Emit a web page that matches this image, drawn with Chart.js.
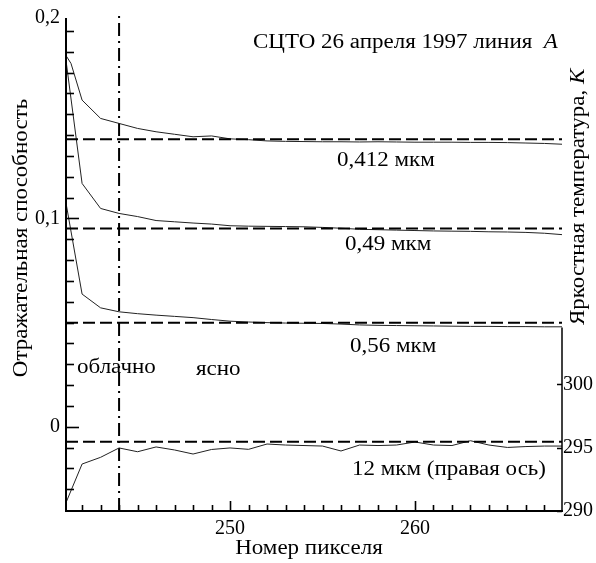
<!DOCTYPE html>
<html>
<head>
<meta charset="utf-8">
<script src="https://cdn.jsdelivr.net/npm/chart.js@4/dist/chart.umd.min.js"></script>
<style>
  html, body { margin: 0; padding: 0; background: #fff; }
  #wrap { width: 596px; height: 563px; }
</style>
</head>
<body>
<div id="wrap"><canvas id="c" width="596" height="563"></canvas></div>
<script>
// ---------------- DATA ----------------
const pixelNumbers = [241.15, 242, 243, 244, 245, 246, 247, 248, 249, 250, 251, 252, 253, 254, 255,
                      256, 257, 258, 259, 260, 261, 262, 263, 264, 265, 266, 267, 268];
const pixelNumbers412 = [241.15, 241.4, 242, 243, 244, 245, 246, 247, 248, 249, 250, 251, 252, 253, 254, 255,
                      256, 257, 258, 259, 260, 261, 262, 263, 264, 265, 266, 267, 268];

const refl412 = [0.1779, 0.1744, 0.1568, 0.1480, 0.1456, 0.1432, 0.1416, 0.1404, 0.1392, 0.1396, 0.1382,
                 0.1378, 0.1372, 0.1370, 0.1369, 0.1368, 0.1368, 0.1367, 0.1368, 0.1367, 0.1366, 0.1366,
                 0.1366, 0.1365, 0.1365, 0.1364, 0.1362, 0.1360, 0.1356];
const refl490 = [0.1745, 0.1168, 0.1048, 0.1024, 0.1009, 0.0990, 0.0984, 0.0978, 0.0973, 0.0965, 0.0963,
                 0.0962, 0.0961, 0.0960, 0.0957, 0.0953, 0.0948, 0.0946, 0.0944, 0.0942, 0.0940, 0.0939,
                 0.0938, 0.0936, 0.0935, 0.0933, 0.0929, 0.0922];
const refl560 = [0.1064, 0.0637, 0.0571, 0.0552, 0.0543, 0.0536, 0.0530, 0.0524, 0.0515, 0.0507, 0.0503,
                 0.0500, 0.0498, 0.0497, 0.0496, 0.0493, 0.0489, 0.0487, 0.0486, 0.0485, 0.0484, 0.0483,
                 0.0482, 0.0482, 0.0481, 0.0481, 0.0480, 0.0480];
const tb12 = [290.73, 293.71, 294.24, 294.98, 294.68, 295.06, 294.82, 294.50, 294.86, 294.98, 294.87,
              295.29, 295.21, 295.17, 295.13, 294.74, 295.21, 295.17, 295.21, 295.45, 295.21, 295.17,
              295.55, 295.21, 295.02, 295.09, 295.13, 295.13];

// clear-sky reference levels (dashed lines)
const clear412 = 0.138;
const clear490 = 0.0952;
const clear560 = 0.0499;
const clear12 = 295.47;

// cloud / clear boundary
const boundaryPixel = 244;

// axis ranges and ticks
const xRange = [241.13, 267.95];
const yRange = [-0.0404, 0.1962];
const y2Range = [290, 328.94];
const xTickValues = [250, 260];
const yTickValues = [0, 0.1, 0.1962];
const yTickLabels = ['0', '0,1', '0,2'];
const y2TickValues = [290, 295, 300];
const rightAxisTopK = 304.5;

const seriesLabels = ['0,412 мкм', '0,49 мкм', '0,56 мкм', '12 мкм (правая ось)'];
const titleText = 'СЦТО 26 апреля 1997 линия  ';
const titleItalic = 'A';
const xTitle = 'Номер пикселя';
const yTitle = 'Отражательная способность';
const y2Title = 'Яркостная температура, ';
const y2TitleItalic = 'K';
const cloudyLabel = 'облачно';
const clearLabel = 'ясно';

// ---------------- CHART ----------------
const FONT = '"Liberation Serif", "DejaVu Serif", serif';
const FS = 20;
const TFS = 20;      // annotation text size
const SX = 1.15;     // horizontal stretch of the annotation text
const pts = (xs, ys) => xs.map((x, i) => ({ x, y: ys[i] }));
const hline = (v) => [{ x: xRange[0], y: v }, { x: xRange[1], y: v }];

const curve = (data, axis) => ({
  data, yAxisID: axis, borderColor: '#222', borderWidth: 1, pointRadius: 0, tension: 0, fill: false
});
const dashed = (data, axis) => ({
  data, yAxisID: axis, borderColor: '#000', borderWidth: 2, borderDash: [12, 5], pointRadius: 0, fill: false
});

const decor = {
  id: 'decor',
  afterDraw(chart) {
    const { ctx, chartArea: a, scales } = chart;
    const { x, y, y2 } = scales;
    ctx.save();
    ctx.strokeStyle = '#000';
    ctx.lineCap = 'butt';
    const ln = (x1, y1, x2, y2_, w) => { ctx.lineWidth = w; ctx.beginPath(); ctx.moveTo(x1, y1); ctx.lineTo(x2, y2_); ctx.stroke(); };
    // axes
    ln(a.left, a.top, a.left, a.bottom + 1, 2);
    ln(a.left - 1, a.bottom, a.right + 1, a.bottom, 2);
    ln(a.right, y2.getPixelForValue(rightAxisTopK), a.right, a.bottom, 1.5);
    // left ticks (every 0.01)
    for (let k = -3; k <= 19; k++) {
      const py = Math.round(y.getPixelForValue(k / 100)) + 0.5;
      const len = (k % 10 === 0) ? 13 : 8;
      ln(a.left, py, a.left + len, py, 1.6);
    }
    // bottom ticks (every pixel)
    for (let v = 242; v <= 267; v++) {
      const px = Math.round(x.getPixelForValue(v)) + 0.5;
      const len = (v % 10 === 0) ? 10 : 6;
      ln(px, a.bottom, px, a.bottom - len, 1.6);
    }
    // right ticks
    for (const v of y2TickValues) {
      const py = Math.round(y2.getPixelForValue(v)) + 0.5;
      ln(a.right, py, a.right - 5, py, 1.5);
    }
    // texts
    ctx.fillStyle = '#000';
    ctx.textBaseline = 'middle';
    const normal = TFS + 'px ' + FONT;
    const italic = 'italic ' + TFS + 'px ' + FONT;
    // write (possibly mixed normal + italic) text with horizontal stretch
    const put = (parts, px, py, align, rot) => {
      ctx.save();
      ctx.translate(px, py);
      if (rot) ctx.rotate(rot);
      ctx.scale(SX, 1);
      ctx.textAlign = 'left';
      let total = 0;
      for (const [s, f] of parts) { ctx.font = f; total += ctx.measureText(s).width; }
      let cx = align === 'center' ? -total / 2 : 0;
      for (const [s, f] of parts) { ctx.font = f; ctx.fillText(s, cx, 0); cx += ctx.measureText(s).width; }
      ctx.restore();
    };
    put([[titleText, normal], [titleItalic, italic]], 253, 43, 'left');
    put([[seriesLabels[0], normal]], 337, 161, 'left');
    put([[seriesLabels[1], normal]], 345, 245, 'left');
    put([[seriesLabels[2], normal]], 350, 347, 'left');
    put([[seriesLabels[3], normal]], 352, 470, 'left');
    put([[cloudyLabel, normal]], 77, 368, 'left');
    put([[clearLabel, normal]], 196, 370, 'left');
    put([[xTitle, normal]], 309, 549, 'center');
    put([[yTitle, normal]], 22, 238, 'center', -Math.PI / 2);
    put([[y2Title, normal], [y2TitleItalic, italic]], 579, 325, 'left', -Math.PI / 2);
    ctx.restore();
  }
};

new Chart(document.getElementById('c'), {
  type: 'line',
  data: {
    datasets: [
      dashed(hline(clear412), 'y'),
      dashed(hline(clear490), 'y'),
      dashed(hline(clear560), 'y'),
      dashed(hline(clear12), 'y2'),
      curve(pts(pixelNumbers412, refl412), 'y'),
      curve(pts(pixelNumbers, refl490), 'y'),
      curve(pts(pixelNumbers, refl560), 'y'),
      curve(pts(pixelNumbers, tb12), 'y2'),
      {
        data: [{ x: boundaryPixel, y: yRange[0] }, { x: boundaryPixel, y: 0.1985 }],
        yAxisID: 'y', borderColor: '#000', borderWidth: 2, borderDash: [13, 5, 2, 5],
        pointRadius: 0, clip: false, fill: false
      }
    ]
  },
  options: {
    responsive: false,
    animation: false,
    events: [],
    layout: { padding: { top: 18, left: 0, right: 0, bottom: 0 } },
    plugins: { legend: { display: false }, tooltip: { enabled: false }, title: { display: false } },
    scales: {
      x: {
        type: 'linear', min: xRange[0], max: xRange[1],
        grid: { display: false, drawTicks: false }, border: { display: false },
        afterBuildTicks: s => { s.ticks = xTickValues.map(v => ({ value: v })); },
        ticks: { callback: v => String(v), color: '#000', font: { family: FONT, size: FS }, padding: 6, maxRotation: 0, autoSkip: false },
        afterFit: s => { s.height = 52; }
      },
      y: {
        type: 'linear', position: 'left', min: yRange[0], max: yRange[1],
        grid: { display: false, drawTicks: false }, border: { display: false },
        afterBuildTicks: s => { s.ticks = yTickValues.map(v => ({ value: v })); },
        ticks: { callback: (v, i) => yTickLabels[i], color: '#000', font: { family: FONT, size: FS }, padding: 6, autoSkip: false },
        afterFit: s => { s.width = 66; }
      },
      y2: {
        type: 'linear', position: 'right', min: y2Range[0], max: y2Range[1],
        grid: { display: false, drawTicks: false }, border: { display: false },
        afterBuildTicks: s => { s.ticks = y2TickValues.map(v => ({ value: v })); },
        ticks: { callback: v => String(v), color: '#000', font: { family: FONT, size: FS }, padding: 1, autoSkip: false },
        afterFit: s => { s.width = 34; }
      }
    }
  },
  plugins: [decor]
});
</script>
</body>
</html>
